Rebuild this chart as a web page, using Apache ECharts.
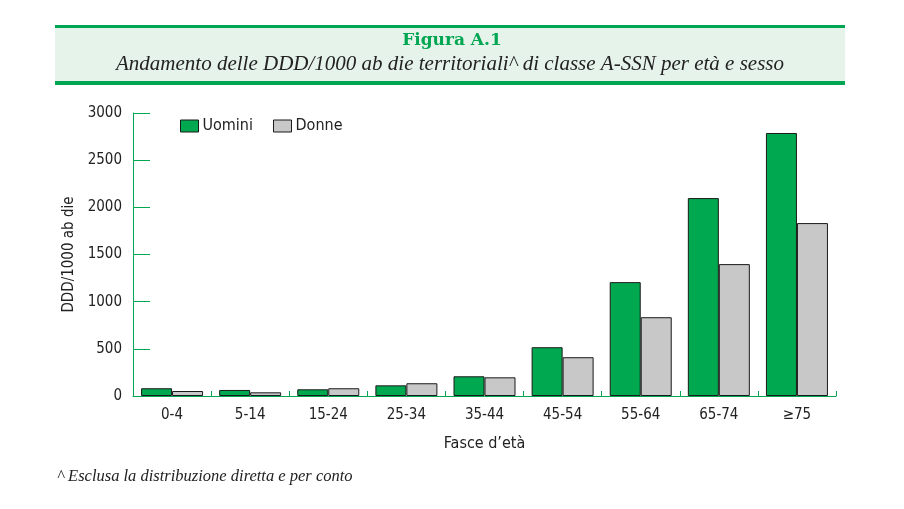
<!DOCTYPE html>
<html><head><meta charset="utf-8">
<script src="https://cdn.jsdelivr.net/npm/echarts@6/dist/echarts.min.js"></script>
<style>html,body{margin:0;padding:0;background:#fff}#c{width:904px;height:509px}</style>
</head><body><div id="c"></div>
<script>
const categories = ['0-4','5-14','15-24','25-34','35-44','45-54','55-64','65-74','≥75'];
const uomini = [82, 64, 71, 113, 209, 517, 1207, 2098, 2788];
const donne = [53, 39, 82, 135, 198, 411, 835, 1398, 1833];
const yTicks = {min: 0, max: 3000, interval: 500};

const GREEN = '#00a651';
const axisFont = '"Liberation Sans Narrow", "DejaVu Sans Condensed", sans-serif';
const chart = echarts.init(document.getElementById('c'));
chart.setOption({
  backgroundColor: '#fff',
  animation: false,
  graphic: [
    {type:'rect', shape:{x:55,y:27,width:790,height:55}, style:{fill:'#e6f3ea'}},
    {type:'rect', shape:{x:55,y:25,width:790,height:3}, style:{fill:GREEN}},
    {type:'rect', shape:{x:55,y:81,width:790,height:4}, style:{fill:GREEN}},
    {type:'text', left:'center', top:32, style:{text:'Figura A.1', font:'bold 17px "DejaVu Serif", serif', fill:GREEN}},
    {type:'text', x:450, y:54, style:{text:'Andamento delle DDD/1000 ab die territoriali^ di classe A-SSN per età e sesso', font:'italic 21px "Liberation Serif", serif', fill:'#222', align:'center'}},
    {type:'text', x:57, y:468, style:{text:'^ Esclusa la distribuzione diretta e per conto', font:'italic 16.5px "Liberation Serif", serif', fill:'#222'}}
  ],
  legend: {
    left: 175, top: 113, itemWidth: 18, itemHeight: 12, itemGap: 20, icon: 'rect',
    textStyle: {fontFamily: axisFont, fontSize: 16, color:'#222', padding:[0,0,0,-1]},
    itemStyle: {borderColor:'#1a1a1a', borderWidth:1},
    data: ['Uomini','Donne']
  },
  grid: {left:133, right:68, top:113, bottom:113},
  xAxis: {
    type:'category', data: categories,
    name: 'Fasce d\u2019età', nameLocation:'middle', nameGap: 40,
    nameTextStyle:{fontFamily: axisFont, fontSize: 16, color:'#222'},
    axisLine:{lineStyle:{color:GREEN, width:1}},
    axisTick:{show:true, inside:true, length:5, interval:0, lineStyle:{color:GREEN}},
    axisLabel:{fontFamily: axisFont, fontSize: 15, color:'#222', margin: 12, interval:0}
  },
  yAxis: {
    type:'value', min: yTicks.min, max: yTicks.max, interval: yTicks.interval,
    name: 'DDD/1000 ab die', nameLocation:'middle', nameGap: 53, nameRotate: 90,
    nameTextStyle:{fontFamily: axisFont, fontSize: 15, color:'#222'},
    axisLine:{show:true, lineStyle:{color:GREEN, width:1}},
    axisTick:{show:true, inside:true, length:17, lineStyle:{color:GREEN}},
    splitLine:{show:false},
    axisLabel:{fontFamily: axisFont, fontSize: 15, color:'#222', margin: 11, formatter: v => String(v)}
  },
  series: [
    {name:'Uomini', type:'bar', data: uomini, barWidth: 31, barGap: '0%',
     itemStyle:{color:'#00a84f', borderColor:'#1a1a1a', borderWidth:1}},
    {name:'Donne', type:'bar', data: donne, barWidth: 31, barGap: '0%',
     itemStyle:{color:'#c8c8c8', borderColor:'#1a1a1a', borderWidth:1}}
  ]
});
</script></body></html>
